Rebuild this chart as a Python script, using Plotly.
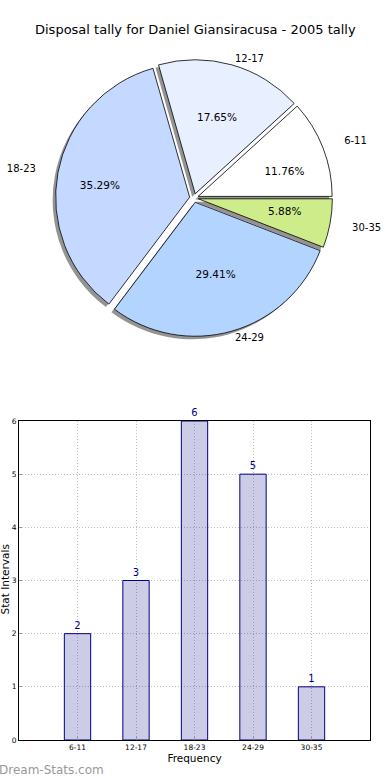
import plotly.graph_objects as go

# ---- data ----
title_text = "Disposal tally for Daniel Giansiracusa - 2005 tally"
categories = ["6-11", "12-17", "18-23", "24-29", "30-35"]
counts = [2, 3, 6, 5, 1]
pie_colors = ["#ffffff", "#e8f0ff", "#c5d8ff", "#b3d4ff", "#cfec8b"]
y_ticks = [0, 1, 2, 3, 4, 5, 6]

FONT = "DejaVu Sans"
W, H = 390, 780

PULL = 0.033
pull = [PULL] * len(categories)
# first slice should start at 3 o'clock going counterclockwise
rotation = 90 - 360.0 * counts[0] / sum(counts)

# pie geometry (pixels)
cx, cy = 194, 198
def dom(r, dx=0, dy=0):
    R = r * (1 + PULL)
    return dict(x=[(cx - R + dx) / W, (cx + R + dx) / W],
                y=[1 - (cy + R + dy) / H, 1 - (cy - R + dy) / H])

R_MAIN = 134
pct = "%{percent:.2%}"
# which text goes where
inside_pct = ["", "", "", pct, ""]
upper_pct = ["", pct, "", "", ""]
ring_pct = [pct, "", pct, "", pct]
side_lab = ["%{label}", "", "%{label}", "", "%{label}"]
vert_lab = ["", "%{label}", "", "%{label}", ""]

fig = go.Figure()

common = dict(values=counts, labels=categories, sort=False,
              direction="counterclockwise", rotation=rotation, pull=pull,
              showlegend=False)
clear = dict(colors=["rgba(0,0,0,0)"] * 5, line=dict(width=0))
pct_font = dict(family=FONT, size=10.5, color="#000000")
lab_font = dict(family=FONT, size=10, color="#000000")

# shadow
fig.add_trace(go.Pie(
    **common, domain=dom(R_MAIN, -3, 3),
    marker=dict(colors=["rgba(60,60,60,0.55)"] * 5, line=dict(width=0)),
    textinfo="none", hoverinfo="skip",
))
# main pie
fig.add_trace(go.Pie(
    **common, domain=dom(R_MAIN),
    marker=dict(colors=pie_colors, line=dict(color="#000000", width=0.8)),
    texttemplate=inside_pct, textposition="inside",
    insidetextorientation="horizontal", insidetextfont=pct_font,
    hoverinfo="label+value",
))
# percentage of the upper slice
fig.add_trace(go.Pie(
    **common, domain=dom(122), marker=clear,
    texttemplate=upper_pct, textposition="inside",
    insidetextorientation="horizontal", insidetextfont=pct_font,
    hoverinfo="skip",
))
# remaining percentages
fig.add_trace(go.Pie(
    **common, domain=dom(70), marker=clear,
    texttemplate=ring_pct, textposition="outside",
    outsidetextfont=pct_font, hoverinfo="skip",
))
# category labels left/right
fig.add_trace(go.Pie(
    **common, domain=dom(153), marker=clear,
    texttemplate=side_lab, textposition="outside",
    outsidetextfont=lab_font, hoverinfo="skip",
))
# category labels top/bottom
fig.add_trace(go.Pie(
    **common, domain=dom(135), marker=clear,
    texttemplate=vert_lab, textposition="outside",
    outsidetextfont=lab_font, hoverinfo="skip",
))

# bar chart
fig.add_trace(go.Bar(
    x=categories, y=counts, width=0.45,
    marker=dict(color="rgba(0,0,128,0.2)", line=dict(color="#000080", width=1)),
    text=[str(c) for c in counts], textposition="outside", cliponaxis=False,
    textfont=dict(family=FONT, size=10, color="#000080"),
    xaxis="x", yaxis="y", showlegend=False,
))

grid = dict(showgrid=True, gridcolor="#bdbdbd", griddash="1px,2px", gridwidth=1)
fig.update_layout(
    width=W, height=H,
    margin=dict(l=0, r=0, t=0, b=0, autoexpand=False),
    paper_bgcolor="white", plot_bgcolor="white",
    font=dict(family=FONT, color="#000000"),
    showlegend=False,
    xaxis=dict(domain=[19 / W, 370 / W], type="category", range=[-1, 5],
               showline=True, linecolor="#000000", linewidth=1, mirror=True,
               ticks="inside", ticklen=3, tickcolor="#999999",
               tickfont=dict(family=FONT, size=7.5), zeroline=False,
               automargin=False,
               title=dict(text="Frequency", font=dict(family=FONT, size=10.5), standoff=3),
               **grid),
    yaxis=dict(domain=[1 - 740 / H, 1 - 421 / H], range=[0, 6], tickvals=y_ticks,
               showline=True, linecolor="#000000", linewidth=1, mirror=True,
               ticks="inside", ticklen=3, tickcolor="#999999",
               tickfont=dict(family=FONT, size=7.5), zeroline=False,
               automargin=False,
               **grid),
    annotations=[
        dict(text=title_text, x=195 / W, y=1 - 30 / H, xref="paper", yref="paper",
             xanchor="center", yanchor="middle",
             showarrow=False, font=dict(family=FONT, size=13, color="#000000")),
        dict(text="Stat Intervals", x=4.5 / W, y=1 - 580 / H, xref="paper", yref="paper",
             xanchor="center", yanchor="middle",
             textangle=-90, showarrow=False, font=dict(family=FONT, size=10.5, color="#000000")),
        dict(text="Dream-Stats.com", x=-3 / W, y=1 - 770 / H, xref="paper", yref="paper",
             xanchor="left", yanchor="middle",
             showarrow=False, font=dict(family=FONT, size=12, color="#999999")),
    ],
)

fig.write_html("out.html", config={"displayModeBar": False},
               post_script="document.body.style.margin='0';document.body.style.padding='0';")
